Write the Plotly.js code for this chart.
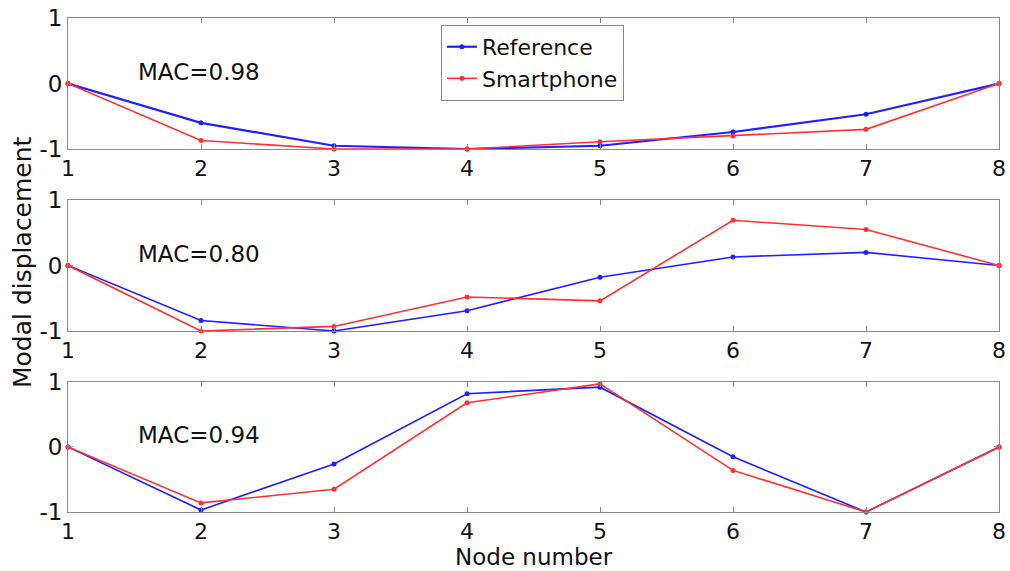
<!DOCTYPE html>
<html>
<head>
<meta charset="utf-8">
<script src="https://cdn.plot.ly/plotly-3.0.1.min.js"></script>
<style>html,body{margin:0;padding:0;background:#fff;}#chart{width:1010px;height:571px;}</style>
</head>
<body>
<div id="chart"></div>
<script>
const nodes = [1, 2, 3, 4, 5, 6, 7, 8];
const tickLabels = ['1', '2', '3', '4', '5', '6', '7', '8'];
const seriesNames = ['Reference', 'Smartphone'];
const macLabels = ['MAC=0.98', 'MAC=0.80', 'MAC=0.94'];

const mode1Reference = [0, -0.60, -0.95, -1.00, -0.95, -0.74, -0.47, 0];
const mode1Smartphone = [0, -0.87, -1.00, -1.00, -0.89, -0.80, -0.70, 0];
const mode2Reference = [0, -0.84, -1.00, -0.69, -0.18, 0.13, 0.20, 0];
const mode2Smartphone = [0, -1.00, -0.93, -0.48, -0.54, 0.69, 0.55, 0];
const mode3Reference = [0, -0.97, -0.26, 0.82, 0.92, -0.15, -1.00, 0];
const mode3Smartphone = [0, -0.86, -0.65, 0.68, 0.97, -0.36, -1.00, 0];

const refColor = '#2020ff';
const smartColor = '#ff3030';
const font = 'DejaVu Sans, Liberation Sans, Arial, sans-serif';

const modes = [
  [mode1Reference, mode1Smartphone],
  [mode2Reference, mode2Smartphone],
  [mode3Reference, mode3Smartphone]
];
const axisIds = [['x', 'y'], ['x2', 'y2'], ['x3', 'y3']];

const traces = [];
modes.forEach((m, i) => {
  [0, 1].forEach(j => {
    traces.push({
      x: nodes, y: m[j], type: 'scatter', mode: 'lines+markers',
      name: seriesNames[j], showlegend: i === 0,
      xaxis: axisIds[i][0], yaxis: axisIds[i][1],
      line: {color: j === 0 ? refColor : smartColor, width: (i === 0 && j === 0) ? 2.2 : 1.6},
      marker: {color: j === 0 ? refColor : smartColor, size: 5, symbol: 'circle'},
      cliponaxis: false
    });
  });
});

const domains = [[0.7348, 1.0], [0.3664, 0.6316], [0, 0.2632]];
const layout = {
  width: 1010, height: 571,
  margin: {l: 68, r: 11, t: 18, b: 59},
  paper_bgcolor: '#fff', plot_bgcolor: '#fff',
  font: {family: font, color: '#111', size: 22},
  showlegend: true,
  legend: {
    x: 0.4006, y: 0.986, xanchor: 'left', yanchor: 'top',
    bgcolor: '#fff', bordercolor: '#888', borderwidth: 1,
    font: {family: font, size: 22, color: '#111'},
    tracegroupgap: 0, itemwidth: 30
  },
  annotations: [],
  hovermode: false
};

domains.forEach((d, i) => {
  const xs = i === 0 ? '' : String(i + 1);
  layout['xaxis' + xs] = {
    domain: [0, 1], anchor: 'y' + xs, range: [1, 8],
    tickvals: nodes, ticktext: tickLabels,
    ticks: 'inside', ticklen: 5, tickcolor: '#888',
    showline: true, linecolor: '#888', linewidth: 1, mirror: 'ticks',
    showgrid: false, zeroline: false,
    tickfont: {family: font, size: 22, color: '#111'}
  };
  layout['yaxis' + xs] = {
    domain: d, anchor: 'x' + xs, range: [-1, 1],
    tickvals: [-1, 0, 1], ticktext: ['-1', '0', '1'],
    ticks: 'inside', ticklen: 5, tickcolor: '#888',
    showline: true, linecolor: '#888', linewidth: 1, mirror: 'ticks',
    showgrid: false, zeroline: false,
    tickfont: {family: font, size: 23, color: '#111'}
  };
  layout.annotations.push({
    text: macLabels[i], xref: 'x' + xs, yref: 'y' + xs,
    x: 1.51, y: 0.18, xanchor: 'left', yanchor: 'middle',
    showarrow: false, font: {family: font, size: 23, color: '#111'}
  });
});

layout.annotations.push({
  text: 'Modal displacement', xref: 'paper', yref: 'paper',
  x: -0.0494, y: 0.506, xanchor: 'center', yanchor: 'middle', textangle: -90,
  showarrow: false, font: {family: font, size: 25, color: '#111'}
});
layout.annotations.push({
  text: 'Node number', xref: 'paper', yref: 'paper',
  x: 0.5, y: -0.092, xanchor: 'center', yanchor: 'middle',
  showarrow: false, font: {family: font, size: 23, color: '#111'}
});

Plotly.newPlot('chart', traces, layout, {displayModeBar: false, staticPlot: true});
</script>
</body>
</html>
